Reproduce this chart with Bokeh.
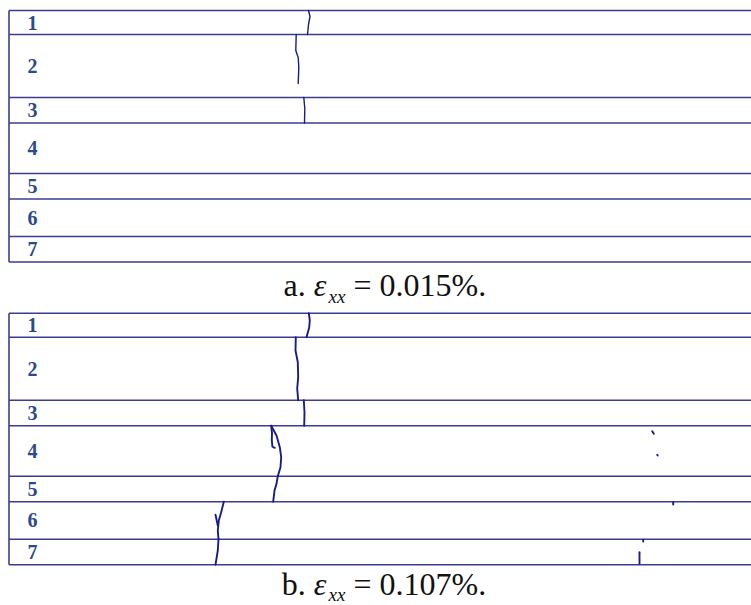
import numpy as np
from bokeh.plotting import figure
from bokeh.layouts import column
from bokeh.models import Range1d
from bokeh.core.properties import value
from bokeh.embed import file_html
from bokeh.resources import INLINE

# Layered specimen: layer names and thicknesses (mm, top to bottom)
layer_names = ["1", "2", "3", "4", "5", "6", "7"]
layer_thickness = [24, 63, 25.5, 50.5, 25.5, 37.5, 25.5]

# Crack traces, x = distance from left edge (mm), y = depth from top (mm)
cracks_a_x = [
    [299.5, 301.0, 299.5, 298.5],
    [287.2, 286.8, 289.2, 289.8, 289.2],
    [294.8, 295.8, 295.5],
]
cracks_a_y = [
    [0, 6, 14, 24],
    [24, 40, 47, 57, 73],
    [87, 98, 112.5],
]

cracks_b_x = [
    [299.8, 300.8, 300.2, 297.5],
    [286.8, 286.5, 288.8, 289.2, 288.2, 289.2],
    [294.8, 295.5, 295.2],
    [262.2, 267.5, 270.8, 272.2, 271.5, 268.8],
    [262.2, 263.0, 262.8, 263.4, 265.8],
    [268.8, 267.5, 265.5, 264.2],
    [214.8, 212.2, 209.8, 208.8, 209.5],
    [206.5, 208.8],
    [209.5, 208.8, 206.5],
    [643.2, 644.8],
    [648.2, 648.7],
    [664.2, 664.2],
    [634.2, 634.2],
    [630.5, 630.5],
]
cracks_b_y = [
    [0, 7.3, 14.3, 24],
    [24, 37.3, 49, 64, 75.3, 87],
    [87, 99.3, 112.5],
    [112.5, 122.3, 134, 144, 154, 163],
    [112.5, 120.0, 127.0, 133.5, 134.6],
    [163, 170.6, 177.3, 188.5],
    [188.5, 199, 207.3, 217.3, 226],
    [201.6, 212.3],
    [226, 237.3, 251.5],
    [118, 120.6],
    [141.6, 142.4],
    [189, 191.3],
    [226.6, 228.3],
    [239, 250.6],
]

# Caption pieces: (text, style, size, x, middle depth, align)
caption_a = [
    ("a. ", "normal", 32, 304.8, 274.5, "right"),
    ("\u03b5", "italic", 32, 304.8, 274.5, "left"),
    ("xx", "italic", 19, 319.5, 285.5, "left"),
    ("= 0.015%.", "normal", 32, 344.5, 274.5, "left"),
]
caption_b = [
    ("b. ", "normal", 32, 304.8, 270.5, "right"),
    ("\u03b5", "italic", 32, 304.8, 270.5, "left"),
    ("xx", "italic", 19, 319.5, 281.0, "left"),
    ("= 0.107%.", "normal", 32, 344.5, 270.5, "left"),
]

FRAME = "#3d3d8e"
CRACK = "#1b1b88"
LABEL = "#2b4a8b"


def make_panel(cx, cy, caption, top_px, height, crack_width):
    p = figure(width=751, height=height,
               x_range=Range1d(-8.5, 742.5),
               y_range=Range1d(height - top_px, -top_px),
               output_backend="svg", toolbar_location=None,
               min_border=0, min_border_left=0, min_border_right=0,
               min_border_top=0, min_border_bottom=0)
    p.axis.visible = False
    p.grid.visible = False
    p.outline_line_color = None
    p.background_fill_color = "white"
    p.border_fill_color = "white"

    bounds = np.concatenate([[0.0], np.cumsum(layer_thickness)])
    # layer interfaces and left edge
    p.segment(x0=0, x1=800, y0=bounds, y1=bounds,
              line_color=FRAME, line_width=1.6)
    p.segment(x0=[0], x1=[0], y0=[bounds[0]], y1=[bounds[-1]],
              line_color=FRAME, line_width=1.6)

    mids = (bounds[:-1] + bounds[1:]) / 2
    p.text(x=18.5, y=mids, text=layer_names,
           text_font=value("Liberation Serif"), text_font_style="bold",
           text_font_size="20px", text_color=LABEL,
           text_baseline="middle", text_align="left")

    p.multi_line(xs=cx, ys=cy, line_color=CRACK, line_width=crack_width,
                 line_join="round", line_cap="round")

    for txt, style, size, x, y, align in caption:
        p.text(x=[x], y=[y], text=[txt],
               text_font=value("Liberation Serif"), text_font_style=style,
               text_font_size=f"{size}px", text_color="#111111",
               text_baseline="middle", text_align=align)
    return p


pa = make_panel(cracks_a_x, cracks_a_y, caption_a, 10.0, 306, 1.4)
pb = make_panel(cracks_b_x, cracks_b_y, caption_b, 6.7, 299, 1.9)

layout = column(pa, pb, spacing=0)
open("out.html", "w").write(file_html(layout, INLINE))
